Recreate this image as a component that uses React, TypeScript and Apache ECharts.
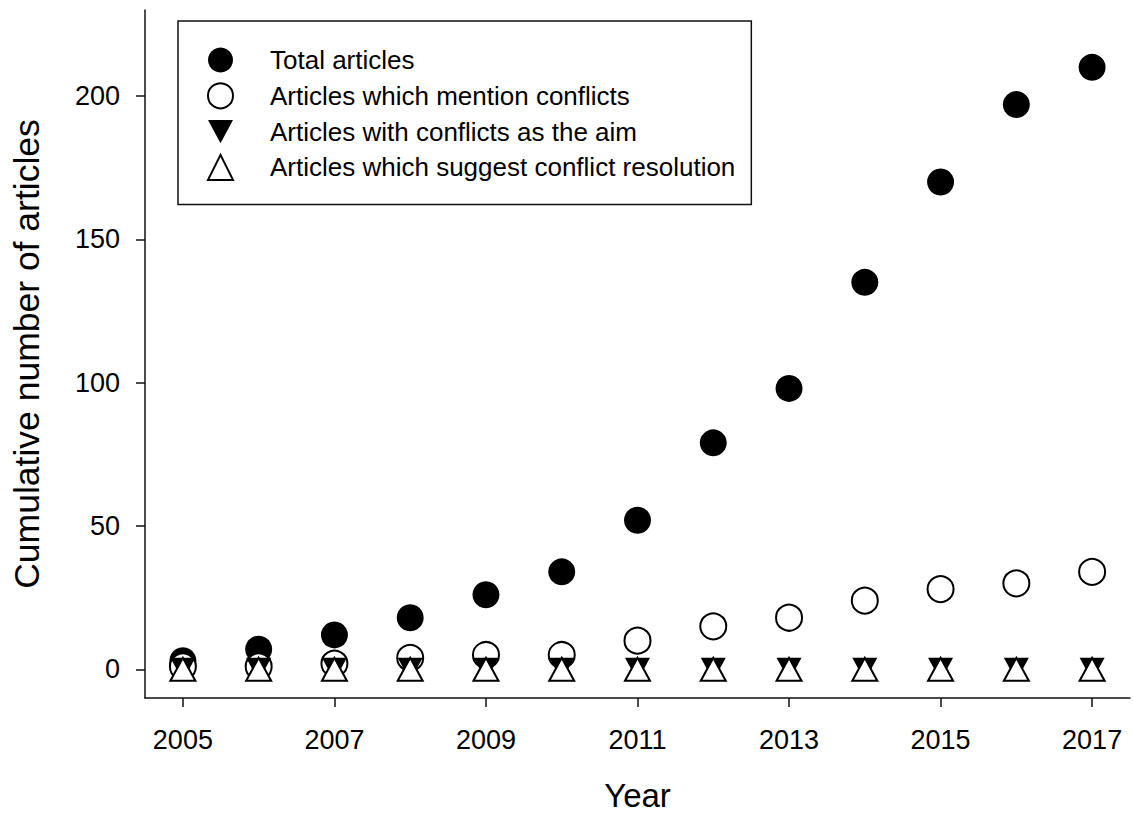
import React, { useEffect, useRef } from "react";
import * as echarts from "echarts";

const years = [2005, 2006, 2007, 2008, 2009, 2010, 2011, 2012, 2013, 2014, 2015, 2016, 2017];
const totalArticles = [3, 7, 12, 18, 26, 34, 52, 79, 98, 135, 170, 197, 210];
const mentionConflicts = [1, 1, 2, 4, 5, 5, 10, 15, 18, 24, 28, 30, 34];
const conflictsAsAim = [0, 0, 0, 0, 0, 0, 0, 0, 0, 0, 0, 0, 0];
const suggestResolution = [0, 0, 0, 0, 0, 0, 0, 0, 0, 0, 0, 0, 0];
const xTicks = [2005, 2007, 2009, 2011, 2013, 2015, 2017];
const yTicks = [0, 50, 100, 150, 200];
const seriesNames = [
  "Total articles",
  "Articles which mention conflicts",
  "Articles with conflicts as the aim",
  "Articles which suggest conflict resolution",
];

const FONT = "'Liberation Sans', Arial, sans-serif";

const pairs = (vals: number[]) => years.map((y, i) => [y, vals[i]]);

export default function App() {
  const ref = useRef<HTMLDivElement>(null);
  useEffect(() => {
    if (!ref.current) return;
    const chart = echarts.init(ref.current, undefined, { renderer: "svg" });
    const axisLine = { show: true, onZero: false, lineStyle: { color: "#111", width: 1.5 } };
    const downIcon = "path://M0,0 L26,0 L13,24 Z";
    chart.setOption({
      animation: false,
      backgroundColor: "#fff",
      textStyle: { fontFamily: FONT },
      grid: {
        left: 145,
        right: 3,
        top: 10,
        bottom: 118,
        containLabel: false,
        outerBoundsMode: "none",
      },
      legend: {
        orient: "vertical",
        left: 178,
        top: 21,
        padding: [25, 16, 23, 29],
        borderColor: "#111",
        borderWidth: 1.5,
        itemWidth: 25,
        itemHeight: 25,
        itemGap: 7.8,
        data: [
          { name: seriesNames[0] },
          { name: seriesNames[1] },
          { name: seriesNames[2], icon: downIcon },
          { name: seriesNames[3] },
        ],
        textStyle: {
          fontFamily: FONT,
          fontSize: 26,
          color: "#000",
          lineHeight: 28,
          padding: [0, 0, 0, 32],
        },
      },
      xAxis: {
        type: "value",
        min: 2004.5,
        max: 2017.5,
        name: "Year",
        nameLocation: "middle",
        nameGap: 97,
        nameTextStyle: {
          fontFamily: FONT,
          fontSize: 33,
          color: "#000",
          verticalAlign: "middle",
          lineHeight: 33,
        },
        axisLine,
        axisTick: { show: true, length: 9, lineStyle: { color: "#111", width: 1.5 }, customValues: xTicks },
        axisLabel: {
          fontFamily: FONT,
          fontSize: 27,
          color: "#000",
          margin: 28,
          customValues: xTicks,
          formatter: (v: number) => String(v),
        },
        splitLine: { show: false },
      },
      yAxis: {
        type: "value",
        min: -10,
        max: 230,
        name: "Cumulative number of articles",
        nameLocation: "middle",
        nameGap: 100,
        nameTextStyle: { fontFamily: FONT, fontSize: 35.5, color: "#000" },
        axisLine,
        axisTick: { show: true, length: 9, lineStyle: { color: "#111", width: 1.5 }, customValues: yTicks },
        axisLabel: {
          fontFamily: FONT,
          fontSize: 27,
          color: "#000",
          margin: 25,
          customValues: yTicks,
          formatter: (v: number) => String(v),
        },
        splitLine: { show: false },
      },
      series: [
        {
          name: seriesNames[0],
          type: "scatter",
          symbol: "circle",
          symbolSize: 27,
          itemStyle: { color: "#000", opacity: 1 },
          emphasis: { disabled: true },
          data: pairs(totalArticles),
        },
        {
          name: seriesNames[1],
          type: "scatter",
          symbol: "circle",
          symbolSize: 26,
          itemStyle: { color: "#fff", borderColor: "#000", borderWidth: 2, opacity: 1 },
          emphasis: { disabled: true },
          data: pairs(mentionConflicts),
        },
        {
          name: seriesNames[2],
          type: "scatter",
          symbol: "triangle",
          symbolRotate: 180,
          symbolSize: [25, 23],
          itemStyle: { color: "#000", opacity: 1 },
          emphasis: { disabled: true },
          data: pairs(conflictsAsAim),
        },
        {
          name: seriesNames[3],
          type: "scatter",
          symbol: "triangle",
          symbolSize: [25, 23],
          itemStyle: { color: "#fff", borderColor: "#000", borderWidth: 2, opacity: 1 },
          emphasis: { disabled: true },
          data: pairs(suggestResolution),
        },
      ],
    });
    return () => chart.dispose();
  }, []);
  return (
    <div
      ref={ref}
      style={{ position: "absolute", left: 0, top: 0, width: 1133, height: 816, background: "#fff" }}
    />
  );
}
